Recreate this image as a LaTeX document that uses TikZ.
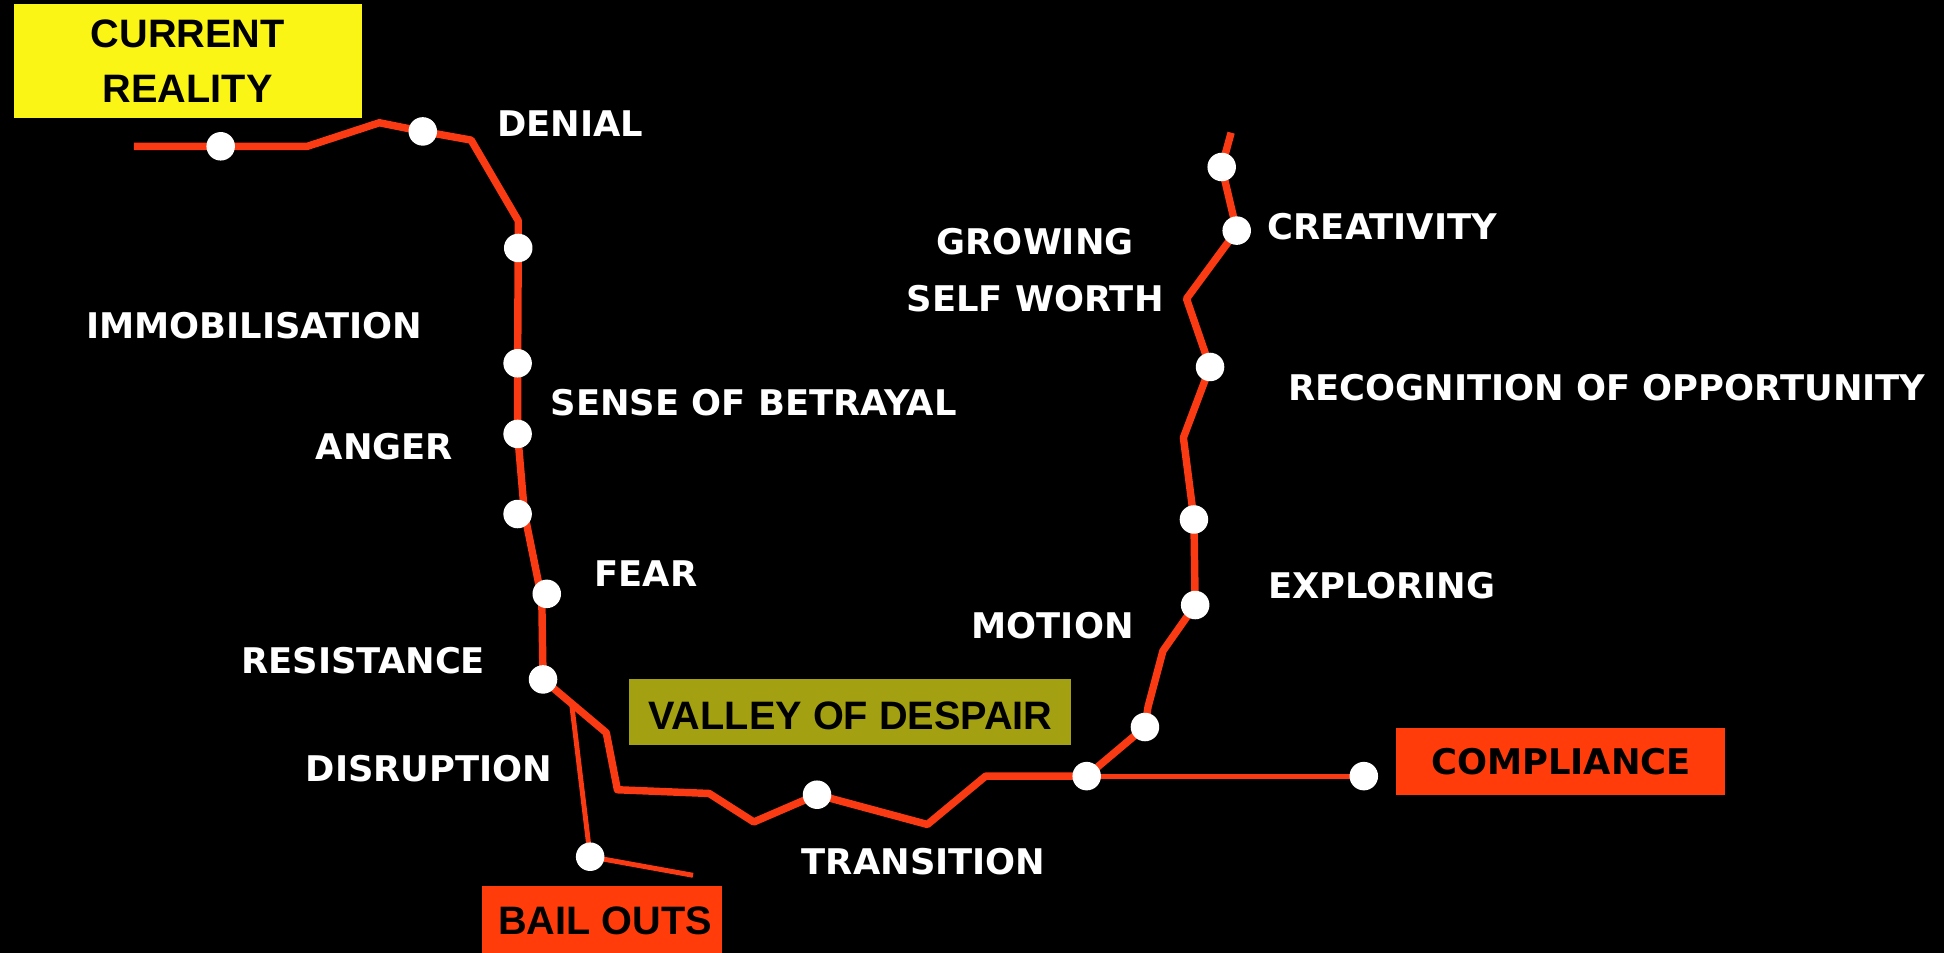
\documentclass[tikz,border=0pt]{standalone}
\usepackage{fontspec}
\newfontfamily\labfont{DejaVu Sans}
\newfontfamily\boxfont{Liberation Sans}
\definecolor{linered}{RGB}{250,58,18}
\definecolor{boxred}{RGB}{255,60,10}
\definecolor{ylw}{RGB}{250,245,20}
\definecolor{olivebox}{RGB}{163,160,18}
\begin{document}
\begin{tikzpicture}[x=1pt,y=-1pt,
  redline/.style={draw=linered,line width=6pt,line join=round},
  thinline/.style={draw=linered,line width=4pt,line join=round},
  dot/.style={circle,fill=white,minimum size=23pt,inner sep=0pt},
  lab/.style={text=white,font=\labfont\bfseries\fontsize{28.5}{46}\selectfont,inner sep=0pt,align=center},
  boxlab/.style={text=black,font=\boxfont\bfseries\fontsize{32}{44}\selectfont,inner sep=0pt,align=center},
  boxlabw/.style={text=black,font=\labfont\bfseries\fontsize{28.5}{34}\selectfont,inner sep=0pt,align=center}]
\useasboundingbox (0,0) rectangle (1568,768);
\fill[black] (-10,-10) rectangle (1578,778);
% path coordinates
\coordinate (s) at (108,118);
\coordinate (p1) at (178,118);
\coordinate (b1) at (248,118);
\coordinate (b2) at (306,99);
\coordinate (p2) at (341,106);
\coordinate (b3) at (380,113);
\coordinate (b4) at (418,178);
\coordinate (p3) at (418,200);
\coordinate (p4) at (417.5,293);
\coordinate (p5) at (417.5,350);
\coordinate (b5) at (423,414);
\coordinate (p6) at (417.5,414.6);
\coordinate (b6) at (437,483);
\coordinate (p7) at (441,479);
\coordinate (p8) at (438,548);
\coordinate (b7) at (489,591);
\coordinate (b8) at (498,637);
\coordinate (b9) at (572,640);
\coordinate (b10) at (608,663);
\coordinate (p9) at (659,641);
\coordinate (b11) at (748,665);
\coordinate (b12) at (795,626);
\coordinate (p10) at (876.5,626);
\coordinate (p11) at (923.5,586.4);
\coordinate (b13) at (926,570);
\coordinate (b14) at (938,525);
\coordinate (p12) at (964,488);
\coordinate (p13) at (963,419);
\coordinate (b15) at (954.5,353);
\coordinate (p14) at (976,296);
\coordinate (b16) at (957,241);
\coordinate (p15) at (997.5,186);
\coordinate (p16) at (985.4,134.7);
\coordinate (e) at (993,107);
\coordinate (br) at (461,567);
\coordinate (p17) at (476,691);
\coordinate (be) at (559,706);
\coordinate (p18) at (1100,626);
% lines
\draw[thinline] (br) -- (p17) -- (be);
\draw[thinline] (p10) -- (p18);
\draw[redline] (s) -- (p1) -- (b1) -- (b2) -- (p2) -- (b3) -- (b4) -- (p3) -- (p4) -- (p5) -- (b5) -- (b6) -- (p8) -- (b7) -- (b8) -- (b9) -- (b10) -- (p9) -- (b11) -- (b12) -- (p10) -- (p11) -- (b13) -- (b14) -- (p12) -- (p13) -- (b15) -- (p14) -- (b16) -- (p15) -- (p16) -- (e);
% dots
\foreach \n in {p1,p2,p3,p4,p5,p6,p7,p8,p9,p10,p11,p12,p13,p14,p15,p16,p17,p18}
  \node[dot] (d\n) at (\n) {};
% boxes
\node[fill=ylw,minimum width=281pt,minimum height=92.5pt,inner sep=0pt] (cr) at (151.4,49.25) {};
\node[boxlab] (crt) at (151.4,49.25) {CURRENT\\REALITY};
\node[fill=olivebox,minimum width=357pt,minimum height=53pt,inner sep=0pt] (vd) at (685.5,574.5) {};
\node[boxlab] (vdt) at (686,577) {VALLEY OF DESPAIR};
\node[fill=boxred,minimum width=193pt,minimum height=70pt,inner sep=0pt] (bo) at (485.5,750) {};
\node[boxlab] (bot) at (488,743) {BAIL OUTS};
\node[fill=boxred,minimum width=265pt,minimum height=54pt,inner sep=0pt] (co) at (1258.5,614) {};
\node[boxlabw] (cot) at (1259,614) {COMPLIANCE};
% labels
\node[lab] (l1) at (460,100) {DENIAL};
\node[lab] (l2) at (205,263) {IMMOBILISATION};
\node[lab] (l3) at (608,325) {SENSE OF BETRAYAL};
\node[lab] (l4) at (310,360) {ANGER};
\node[lab] (l5) at (521,463) {FEAR};
\node[lab] (l6) at (293,533) {RESISTANCE};
\node[lab] (l7) at (346,620) {DISRUPTION};
\node[lab] (l8) at (745,695) {TRANSITION};
\node[lab] (l9) at (849,505) {MOTION};
\node[lab] (l10) at (1114.5,472) {EXPLORING};
\node[lab] (l11) at (1296,313) {RECOGNITION OF OPPORTUNITY};
\node[lab] (l12) at (835,218) {GROWING\\SELF WORTH};
\node[lab] (l13) at (1115,183) {CREATIVITY};
\end{tikzpicture}
\end{document}
